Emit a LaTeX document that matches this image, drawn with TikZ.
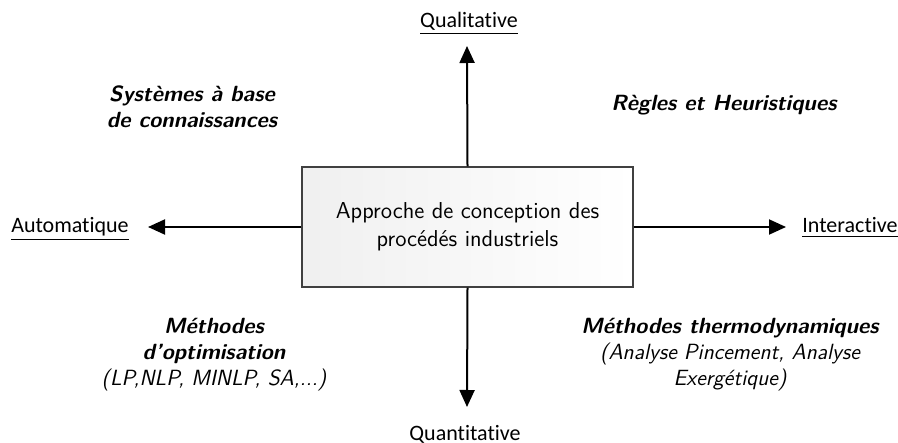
\documentclass[tikz,border=0pt]{standalone}
\usepackage{fontspec}
\newfontfamily\polefont[Ligatures=NoCommon]{Carlito}
\usetikzlibrary{arrows.meta,positioning}
\tikzset{
  axe/.style={line width=1pt, -{Triangle[length=8.5pt,width=7.5pt]}},
  approche/.style={draw=black!75, line width=0.6pt, left color=black!6, right color=white,
    minimum width=165.5pt, minimum height=60pt, align=center,
    font=\sffamily\fontsize{11.5}{13.8}\selectfont},
  pole/.style={font=\polefont\fontsize{11}{13}\selectfont, inner sep=0pt, anchor=base},
  methode/.style={align=center, font=\sffamily\fontsize{11}{13}\selectfont\bfseries\itshape},
}

\begin{document}
\begin{tikzpicture}[x=0.5pt,y=-0.5pt]
		%%%%% START %%%%%
		\useasboundingbox (0,0) rectangle (898,443);
		
		\node[approche] (approche) at (467.5,227) {Approche de conception des\\procédés industriels};
		
		\coordinate (haut) at (467,46);
		\coordinate (bas) at (467,407);
		\coordinate (gauche) at (148,227);
		\coordinate (droite) at (786,227);
		
		\draw[axe] (approche.north) -- (haut);
		\draw[axe] (approche.south) -- (bas);
		\draw[axe] (approche.west) -- (gauche);
		\draw[axe] (approche.east) -- (droite);
		
		\node[pole] (quali) at (469,28) {\underline{Qualitative}};
		\node[pole] (quanti) at (465,440) {\underline{Quantitative}};
		\node[pole] (auto) at (70,233) {\underline{Automatique}};
		\node[pole] (inter) at (850,233) {\underline{Interactive}};
		
		\node[methode] (connaissances) at (192,107) {Systèmes à base\\de connaissances};
		\node[methode] (regles) at (724,105) {Règles et Heuristiques};
		\node[methode] (optim) at (214,355) {Méthodes\\d'optimisation\\{\mdseries (LP,NLP, MINLP, SA,...)}};
		\node[methode] (thermo) at (730,355) {Méthodes thermodynamiques\\{\mdseries (Analyse Pincement, Analyse}\\{\mdseries Exergétique)}};
		
		%%%%% END %%%%%
\end{tikzpicture}
\end{document}
